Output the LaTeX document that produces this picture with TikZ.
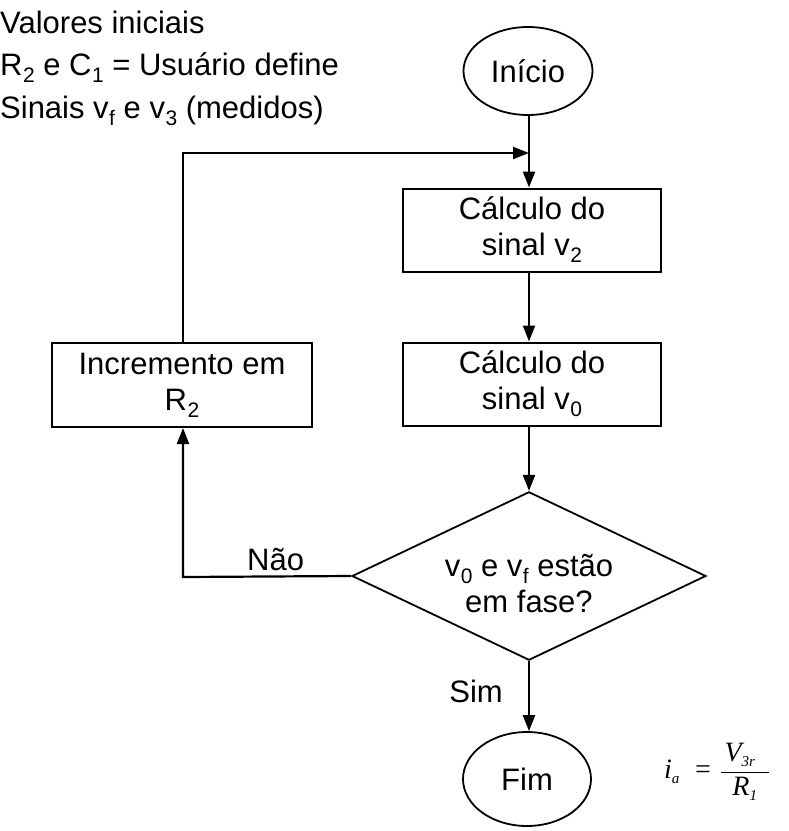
\documentclass[tikz,border=0pt]{standalone}
\usepackage{fontspec}
\setmainfont{Liberation Sans}
\newfontfamily\tms{Liberation Serif}
\usetikzlibrary{shapes.geometric,arrows.meta}
\newcommand{\lowsub}[1]{\kern0.5pt\raisebox{-7pt}{\fontsize{21}{21}\selectfont #1}}
\newcommand{\fsub}[1]{\raisebox{-5pt}{\fontsize{15}{15}\selectfont #1}}
\begin{document}
\begin{tikzpicture}[x=1pt,y=-1pt,
  every node/.style={font=\fontsize{31}{36}\selectfont},
  box/.style={draw,line width=2pt,minimum width=258pt,minimum height=83pt,align=center,inner sep=0pt},
  term/.style={draw,ellipse,line width=1.8pt,minimum width=129pt,minimum height=88pt,inner sep=0pt},
  dec/.style={draw,diamond,line width=1.8pt,minimum width=354pt,minimum height=154pt,inner sep=0pt},
  conn/.style={line width=2.2pt,-{Triangle[length=16pt,width=12pt]}},
  lbl/.style={anchor=base west,inner sep=0pt}]
\useasboundingbox (0,0) rectangle (789,831);
\node[lbl] (t1) at (0,33) {Valores iniciais};
\node[lbl] (t2) at (0,75) {R\lowsub{2} e C\lowsub{1} = Usuário define};
\node[lbl] (t3) at (0,118) {Sinais v\lowsub{f} e v\lowsub{3} (medidos)};
\node[term] (ini) at (528,71) {Início};
\node[box] (b1) at (532,230) {Cálculo do\\sinal v\lowsub{2}};
\node[box] (b2) at (532,384) {Cálculo do\\sinal v\lowsub{0}};
\node[box,minimum width=260pt,minimum height=84pt] (inc) at (182,385) {Incremento em\\R\lowsub{2}};
\node[dec] (d) at (529,576) {\smash{\raisebox{-18pt}{\begin{tabular}{@{}c@{}}v\lowsub{0} e v\lowsub{f} estão\\em fase?\end{tabular}}}};
\node[term,minimum width=128pt,minimum height=94pt] (fim) at (527,779) {Fim};
\coordinate (top) at (183,153);
\coordinate (bot) at (183,577);
\coordinate (j) at (529,153);
\draw[conn] (ini.south -| j) -- (b1.north -| j);
\draw[conn] (b1.south -| j) -- (b2.north -| j);
\draw[conn] (b2.south -| j) -- (d.north);
\draw[conn] (d.south) -- (fim.north -| d.south);
\node[anchor=base east,inner sep=0pt] (sim) at (503,702) {Sim};
\node[anchor=base west,inner sep=0pt] (nao) at (247,570) {Não};
\draw[conn] (d.west) -- (bot) -- (inc.south -| bot);
\draw[conn] (inc.north -| top) -- (top) -- (j);
\node[anchor=base west,inner sep=0pt,font=\fontsize{28}{30}\selectfont\tms\itshape] (f) at (664,778)
  {i\fsub{a}\kern14pt= $\displaystyle\frac{\hbox{\tms\itshape\kern4pt V\fsub{3r}\kern14pt}}{\hbox{\tms\itshape\kern4pt R\fsub{1}\kern4pt}}$};
\end{tikzpicture}
\end{document}
